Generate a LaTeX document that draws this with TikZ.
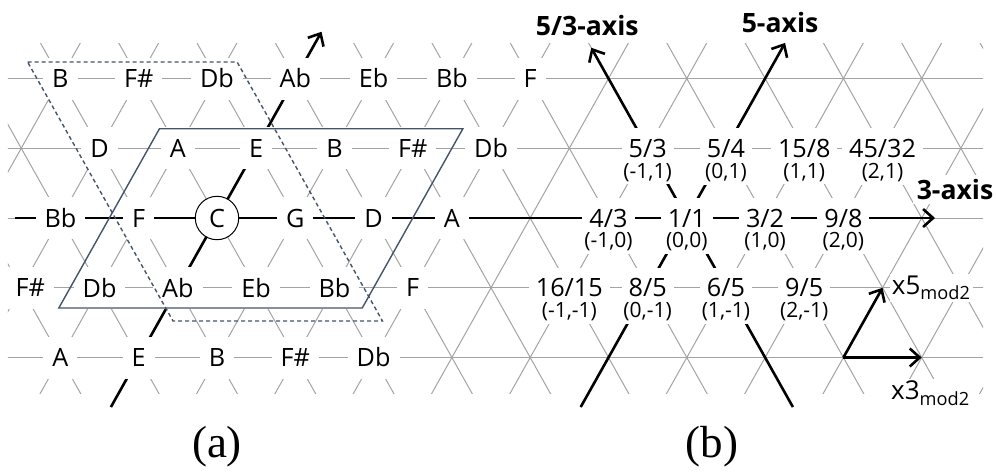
\documentclass[tikz,border=0pt]{standalone}
\usepackage{fontspec}
\setmainfont{Open Sans}
\newfontfamily\capfont{Liberation Serif}
\usetikzlibrary{positioning,arrows.meta}
\definecolor{gridgray}{HTML}{A3A3A3}
\definecolor{pgblue}{HTML}{44546A}
\tikzset{
  gline/.style={gridgray, line width=0.5pt},
  note/.style={fill=white, inner xsep=4.5pt, inner ysep=0pt, minimum height=21pt, font=\fontsize{12.6}{14}\selectfont},
  tonic/.style={circle, draw, fill=white, line width=0.5pt, minimum size=21.7pt, inner sep=0pt, font=\fontsize{12.6}{14}\selectfont},
  ratio/.style={note, inner xsep=3.5pt, minimum height=20pt},
  coord/.style={fill=white, inner sep=1.5pt, font=\fontsize{10.5}{12}\selectfont},
  arr/.style={-{Straight Barb[length=5pt,width=9pt]}, line width=1.3pt},
  pgram/.style={pgblue, line width=0.7pt},
  axlab/.style={fill=white, inner sep=2pt, font=\bfseries\fontsize{13.3}{15}\selectfont},
  vlab/.style={fill=white, inner sep=1pt, font=\fontsize{13}{15}\selectfont},
  sublab/.style={font=\capfont\fontsize{22.5}{25}\selectfont}
}
\begin{document}
\begin{tikzpicture}[x={(39.15pt,0pt)}, y={(19.575pt,34.875pt)}]
\useasboundingbox (-108.5pt,-127.5pt) rectangle (389.5pt,109pt);
\begin{scope}
\clip (-104.5pt,-87.5pt) rectangle (383pt,87.5pt);
\foreach \b in {-2,...,2} \draw[gline] (-6,\b) -- (14,\b);
\foreach \a in {-6,...,14} \draw[gline] (\a,-3) -- (\a,3);
\foreach \a in {-6,...,17} \draw[gline] (\a,-3) -- (\a-6,3);
\end{scope}
\coordinate (w3) at (-2.58,0); \coordinate (e3) at (9.17,0);
\coordinate (s5a) at (0,-2.71); \coordinate (n5a) at (0,2.67);
\coordinate (s5b) at (6,-2.71); \coordinate (n5b) at (6,2.51);
\coordinate (s53) at (8.71,-2.71); \coordinate (n53) at (3.56,2.44);
\draw[arr] (w3) -- (e3); \draw[arr] (s5a) -- (n5a);
\draw[arr] (s5b) -- (n5b); \draw[arr] (s53) -- (n53);
\foreach \a/\n in {-3/B,-2/F\#,-1/Db,0/Ab,1/Eb,2/Bb,3/F} \node[note] (t\a) at (\a,2) {\n};
\foreach \a/\n in {-2/D,-1/A,0/E,1/B,2/F\#,3/Db} \node[note] (u\a) at (\a,1) {\n};
\foreach \a/\n in {-2/Bb,-1/F,1/G,2/D,3/A} \node[note] (m\a) at (\a,0) {\n};
\node[tonic] (c) at (0,0) {C};
\node[note, xshift=4.5pt] (l-2) at (-2,-1) {F\#};
\foreach \a/\n in {-1/Db,0/Ab,1/Eb,2/Bb,3/F} \node[note] (l\a) at (\a,-1) {\n};
\foreach \a/\n in {-1/A,0/E,1/B,2/F\#,3/Db} \node[note] (d\a) at (\a,-2) {\n};
\foreach \a/\r/\c in {5/{5/3}/-1,6/{5/4}/0,7/{15/8}/1,8/{45/32}/2}{
  \node[ratio] (q\a) at (\a,1) {\r};
  \node[coord] (qc\a) at ([yshift=-12pt]q\a.center) {(\c,1)};}
\foreach \a/\r/\c in {5/{4/3}/-1,6/{1/1}/0,7/{3/2}/1,8/{9/8}/2}{
  \node[ratio] (r\a) at (\a,0) {\r};
  \node[coord] (rc\a) at ([yshift=-12pt]r\a.center) {(\c,0)};}
\foreach \a/\r/\c in {5/{16/15}/-1,6/{8/5}/0,7/{6/5}/1,8/{9/5}/2}{
  \node[ratio] (p\a) at (\a,-1) {\r};
  \node[coord] (pc\a) at ([yshift=-12pt]p\a.center) {(\c,-1)};}
\draw[pgram] (-1.375,-1.29) -- (2.5,-1.29) -- (2.5,1.28) -- (-1.375,1.28) -- cycle;
\draw[pgram, dash pattern=on 2pt off 1.5pt] (-3.537,2.237) -- (-0.862,2.237) -- (2.852,-1.477) -- (0.177,-1.477) -- cycle;
\coordinate (o) at (9,-2); \coordinate (p3) at (10,-2); \coordinate (p5) at (9,-1);
\draw[arr] (o) -- (p3); \draw[arr] (o) -- (p5);
\node[axlab, above=4pt of n53, xshift=-2pt] (l53) {5/3-axis};
\node[axlab, above=3pt of n5b, xshift=-2.5pt] (l5) {5-axis};
\node[axlab, above=7pt of e3, xshift=10pt] (l3) {3-axis};
\node[vlab, right=3.5pt of p5] (x5) {x5\textsubscript{mod2}};
\node[vlab, below=10.5pt of p3, xshift=4.5pt] (x3) {x3\textsubscript{mod2}};
\node[sublab] (capa) at (0pt,-114.5pt) {(a)};
\node[sublab] (capb) at (247.5pt,-114.5pt) {(b)};
\end{tikzpicture}
\end{document}
